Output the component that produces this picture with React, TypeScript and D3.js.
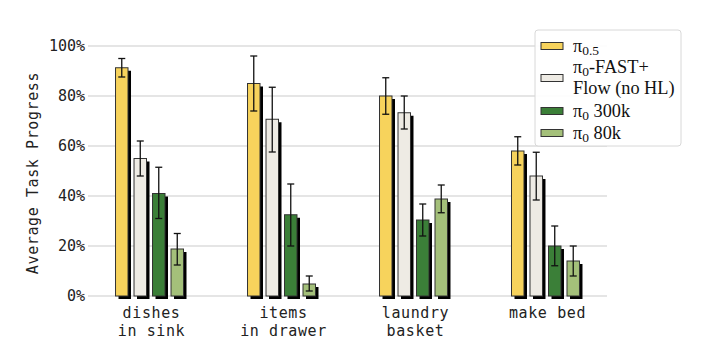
import React from "react";
import * as d3 from "d3";

const categories = ["dishes\nin sink", "items\nin drawer", "laundry\nbasket", "make bed"];
const seriesKeys = ["pi05", "fast", "p300k", "p80k"];
const seriesColors = ["#f7d35c", "#eeebe4", "#3b7f38", "#a4c07a"];

// values per series, in category order
const pi05 = [91.3, 85, 80, 58];
const fast = [55, 70.7, 73.3, 48];
const p300k = [41, 32.5, 30.4, 20];
const p80k = [18.8, 4.8, 38.8, 14];

// error bar lower / upper bounds
const pi05Lo = [87.6, 74, 72.7, 52.4];
const pi05Hi = [95, 96, 87.3, 63.7];
const fastLo = [48, 57.6, 66.8, 38.4];
const fastHi = [62, 83.5, 80, 57.5];
const p300kLo = [31, 20, 24, 12.1];
const p300kHi = [51.5, 44.8, 36.8, 28];
const p80kLo = [12.4, 2, 33.3, 8];
const p80kHi = [25, 8, 44.4, 20];

const yTicks = [0, 20, 40, 60, 80, 100];

const W = 728;
const H = 358;

export default function App() {
  const values = [pi05, fast, p300k, p80k];
  const lows = [pi05Lo, fastLo, p300kLo, p80kLo];
  const highs = [pi05Hi, fastHi, p300kHi, p80kHi];

  const x0 = 88;
  const x1 = 607;
  const y = d3.scaleLinear().domain([0, 100]).range([296, 46]);
  const xg = d3.scalePoint<string>().domain(categories).range([x0, x1]).padding(0.466);
  const xs = d3.scaleBand<string>().domain(seriesKeys).range([-40, 40]).padding(0.325);
  const bw = xs.bandwidth();
  const mono = "'DejaVu Sans Mono', monospace";
  const serif = "'Liberation Serif', 'Times New Roman', serif";
  const shadow = 3;
  const cap = 3.5;

  const legendItems: { lines: React.ReactNode[]; color: string }[] = [
    { lines: [<>π<tspan fontSize={13.5} dy={3}>0.5</tspan></>], color: seriesColors[0] },
    { lines: [<>π<tspan fontSize={13.5} dy={3}>0</tspan><tspan dy={-3}>-FAST+</tspan></>, <>Flow (no HL)</>], color: seriesColors[1] },
    { lines: [<>π<tspan fontSize={13.5} dy={3}>0</tspan><tspan dy={-3}> 300k</tspan></>], color: seriesColors[2] },
    { lines: [<>π<tspan fontSize={13.5} dy={3}>0</tspan><tspan dy={-3}> 80k</tspan></>], color: seriesColors[3] },
  ];
  const legendCenters = [46, 78, 111, 133];

  return (
    <svg width={W} height={H} style={{ position: "absolute", left: 0, top: 0, background: "#fff" }}>
      {/* gridlines */}
      {yTicks.map((t) => (
        <line key={"g" + t} x1={x0} x2={x1} y1={y(t)} y2={y(t)} stroke="#dcdcdc" strokeWidth={1.5} />
      ))}
      {/* y tick labels */}
      {yTicks.map((t) => (
        <text key={"t" + t} x={85} y={y(t)} dy="0.36em" textAnchor="end" fontFamily={mono} fontSize={15} fill="#222">
          {t + "%"}
        </text>
      ))}
      {/* y label */}
      <text
        transform={`translate(38,${(y(0) + y(100)) / 2 + 2}) rotate(-90)`}
        textAnchor="middle"
        fontFamily={mono}
        fontSize={15}
        letterSpacing={0.6}
        fill="#222"
      >
        Average Task Progress
      </text>
      {/* bars */}
      {categories.map((c, ci) => (
        <g key={c} transform={`translate(${xg(c)},0)`}>
          {seriesKeys.map((s, si) => {
            const bx = xs(s)!;
            const v = values[si][ci];
            return (
              <g key={s}>
                <rect x={bx + shadow} y={y(v) + shadow} width={bw} height={y(0) - y(v)} fill="#000" />
                <rect x={bx} y={y(v)} width={bw} height={y(0) - y(v)} fill={seriesColors[si]} stroke="#333" strokeWidth={1} />
              </g>
            );
          })}
          {seriesKeys.map((s, si) => {
            const cx = xs(s)! + bw / 2;
            const lo = y(lows[si][ci]);
            const hi = y(highs[si][ci]);
            return (
              <g key={"e" + s} stroke="#111" strokeWidth={1.3}>
                <line x1={cx} x2={cx} y1={hi} y2={lo} />
                <line x1={cx - cap} x2={cx + cap} y1={hi} y2={hi} />
                <line x1={cx - cap} x2={cx + cap} y1={lo} y2={lo} />
              </g>
            );
          })}
          {c.split("\n").map((ln, li) => (
            <text key={li} x={2} y={318.3 + li * 17.4} textAnchor="middle" fontFamily={mono} fontSize={15} letterSpacing={0.6} fill="#222">
              {ln}
            </text>
          ))}
        </g>
      ))}
      {/* legend */}
      <g>
        <rect x={535} y={30} width={146} height={116} rx={3} fill="#fff" fillOpacity={0.9} stroke="#d8d8d8" strokeWidth={1} />
        {legendItems.map((it, i) => {
          const cy = legendCenters[i];
          return (
            <g key={i}>
              <rect x={541} y={cy - 3.5} width={22} height={7} fill={it.color} stroke="#333" strokeWidth={1} />
              {it.lines.map((ln, li) => {
                const n = it.lines.length;
                const ty = cy + (li - (n - 1) / 2) * 20.5 + 5.5;
                return (
                  <text key={li} x={573} y={ty} fontFamily={serif} fontSize={18.3} fill="#111">
                    {ln}
                  </text>
                );
              })}
            </g>
          );
        })}
      </g>
    </svg>
  );
}
